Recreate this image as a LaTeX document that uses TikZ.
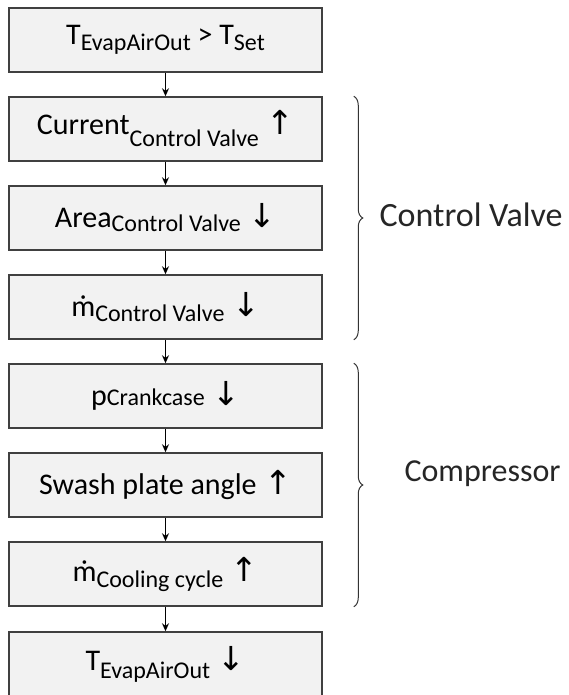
\documentclass[tikz,border=0pt]{standalone}
\usepackage{fontspec}
\setmainfont{Carlito}
\newfontfamily\arrowfont{DejaVu Sans}
\usetikzlibrary{arrows.meta,decorations.pathreplacing}
\newcommand\lowsub[2][5pt]{\raisebox{-#1}{\fontsize{24}{24}\selectfont #2}}
\newcommand\mdot{\ooalign{m\cr\hidewidth\char"02D9\hidewidth\cr}}
\newcommand\uparr{\hspace{0.25em}{\arrowfont\fontsize{33}{33}\selectfont\char"2191}}
\newcommand\dnarr{\hspace{0.25em}{\arrowfont\fontsize{33}{33}\selectfont\char"2193}}
\begin{document}
\begin{tikzpicture}[x=1pt,y=-1pt,
		box/.style={draw=black!75, line width=1.5pt, fill=black!5, minimum width=313pt,
			minimum height=64pt, inner sep=0pt, font=\fontsize{30}{30}\selectfont},
		flow/.style={line width=1.6pt, -{Stealth[length=8pt,width=7pt]}},
		grp/.style={decorate, decoration={brace,amplitude=9pt}, line width=1pt, draw=black!80},
		grplabel/.style={anchor=west, text=black!85}]
		\useasboundingbox (0,0) rectangle (569,695);
		\node (tset) at (165.5,40)  [box] {T\lowsub[6pt]{EvapAirOut} > T\lowsub[6pt]{Set}};
		\node (cur)  at (165.5,129) [box] {Current\lowsub[12pt]{Control Valve}\uparr};
		\node (area) at (165.5,218) [box] {Area\lowsub[4pt]{Control Valve}\dnarr};
		\node (mcv)  at (165.5,307) [box] {\mdot\lowsub[5pt]{Control Valve}\dnarr};
		\node (pcc)  at (165.5,396) [box] {p\lowsub[0pt]{Crankcase}\dnarr};
		\node (swp)  at (165.5,485) [box] {Swash plate angle\uparr};
		\node (mcc)  at (165.5,574) [box] {\mdot\lowsub[6pt]{Cooling cycle}\uparr};
		\node (tout) at (165.5,664) [box] {T\lowsub[8pt]{EvapAirOut}\dnarr};
		\draw[flow] (tset) -- (cur);
		\draw[flow] (cur) -- (area);
		\draw[flow] (area) -- (mcv);
		\draw[flow] (mcv) -- (pcc);
		\draw[flow] (pcc) -- (swp);
		\draw[flow] (swp) -- (mcc);
		\draw[flow] (mcc) -- (tout);
		% groups
		\draw[grp] ([xshift=31pt]cur.north east) -- ([xshift=31pt]mcv.south east);
		\draw[grp] ([xshift=31pt]pcc.north east) -- ([xshift=31pt]mcc.south east);
		\node (cvlab)   at (376,215) [grplabel, font=\fontsize{34}{34}\selectfont] {Control Valve};
		\node (complab) at (401,474) [grplabel, font=\fontsize{32}{32}\selectfont] {Compressor};
	\end{tikzpicture}
\end{document}
